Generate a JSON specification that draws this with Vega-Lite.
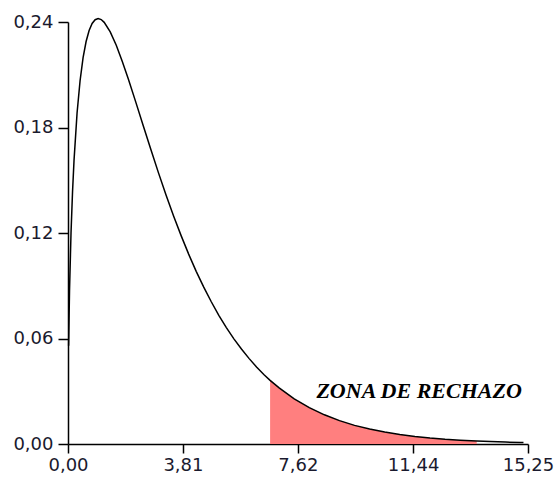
{
  "$schema": "https://vega.github.io/schema/vega-lite/v6.json",
  "width": 460,
  "height": 422,
  "autosize": "none",
  "padding": {"left": 68, "top": 22, "right": 32, "bottom": 38},
  "background": "white",
  "config": {"view": {"stroke": null}},
  "datasets": {
    "curve": [
      {"x": 0.02, "y": 0.0559}, {"x": 0.05, "y": 0.0870}, {"x": 0.1, "y": 0.1200},
      {"x": 0.15, "y": 0.1433}, {"x": 0.2, "y": 0.1614}, {"x": 0.3, "y": 0.1881},
      {"x": 0.4, "y": 0.2066}, {"x": 0.5, "y": 0.2197}, {"x": 0.6, "y": 0.2289},
      {"x": 0.7, "y": 0.2352}, {"x": 0.8, "y": 0.2392}, {"x": 0.9, "y": 0.2413},
      {"x": 1.0, "y": 0.2420}, {"x": 1.1, "y": 0.2414}, {"x": 1.2, "y": 0.2398},
      {"x": 1.4, "y": 0.2344}, {"x": 1.6, "y": 0.2268}, {"x": 1.8, "y": 0.2176},
      {"x": 2.0, "y": 0.2076}, {"x": 2.25, "y": 0.1943}, {"x": 2.5, "y": 0.1807},
      {"x": 2.75, "y": 0.1673}, {"x": 3.0, "y": 0.1542}, {"x": 3.25, "y": 0.1416},
      {"x": 3.5, "y": 0.1297}, {"x": 3.75, "y": 0.1185}, {"x": 4.0, "y": 0.1080},
      {"x": 4.25, "y": 0.0982}, {"x": 4.5, "y": 0.0892}, {"x": 4.75, "y": 0.0809},
      {"x": 5.0, "y": 0.0732}, {"x": 5.25, "y": 0.0662}, {"x": 5.5, "y": 0.0598},
      {"x": 5.75, "y": 0.0540}, {"x": 6.0, "y": 0.0487}, {"x": 6.25, "y": 0.0438},
      {"x": 6.5, "y": 0.0394}, {"x": 6.7, "y": 0.0362}, {"x": 7.0, "y": 0.0319},
      {"x": 7.5, "y": 0.0257}, {"x": 8.0, "y": 0.0207}, {"x": 8.5, "y": 0.0166},
      {"x": 9.0, "y": 0.0133}, {"x": 9.5, "y": 0.0106}, {"x": 10.0, "y": 0.0085},
      {"x": 10.5, "y": 0.0068}, {"x": 11.0, "y": 0.0054}, {"x": 11.5, "y": 0.0043},
      {"x": 12.0, "y": 0.0034}, {"x": 12.5, "y": 0.0027}, {"x": 13.0, "y": 0.0022},
      {"x": 13.55, "y": 0.0017}, {"x": 14.0, "y": 0.0014}, {"x": 14.5, "y": 0.0011},
      {"x": 15.0, "y": 0.00085}, {"x": 15.1, "y": 0.0008}
    ],
    "zone": [
      {"x": 6.7, "y": 0.0362}, {"x": 7.0, "y": 0.0319}, {"x": 7.5, "y": 0.0257},
      {"x": 8.0, "y": 0.0207}, {"x": 8.5, "y": 0.0166}, {"x": 9.0, "y": 0.0133},
      {"x": 9.5, "y": 0.0106}, {"x": 10.0, "y": 0.0085}, {"x": 10.5, "y": 0.0068},
      {"x": 11.0, "y": 0.0054}, {"x": 11.5, "y": 0.0043}, {"x": 12.0, "y": 0.0034},
      {"x": 12.5, "y": 0.0027}, {"x": 13.0, "y": 0.0022}, {"x": 13.55, "y": 0.0017}
    ],
    "label": [{"x": 11.64, "y": 0.030, "text": "ZONA DE RECHAZO"}]
  },
  "layer": [
    {
      "data": {"name": "zone"},
      "mark": {"type": "area", "color": "#ff7f7f", "opacity": 1},
      "encoding": {
        "x": {
          "field": "x", "type": "quantitative",
          "scale": {"domain": [0, 15.25], "nice": false, "zero": false},
          "axis": {
            "values": [0, 3.81, 7.62, 11.44, 15.25],
            "labelExpr": "replace(format(datum.value, '.2f'), '.', ',')",
            "title": null, "grid": false,
            "domainColor": "black", "domainWidth": 1.5,
            "tickColor": "black", "tickWidth": 1.5, "tickSize": 9,
            "labelFont": "DejaVu Sans", "labelFontSize": 18, "labelColor": "#1a1a2e",
            "labelPadding": 3, "labelFlush": false
          }
        },
        "y": {
          "field": "y", "type": "quantitative",
          "scale": {"domain": [0, 0.24], "nice": false},
          "axis": {
            "values": [0, 0.06, 0.12, 0.18, 0.24],
            "labelExpr": "replace(format(datum.value, '.2f'), '.', ',')",
            "title": null, "grid": false,
            "domainColor": "black", "domainWidth": 1.5,
            "tickColor": "black", "tickWidth": 1.5, "tickSize": 10,
            "labelFont": "DejaVu Sans", "labelFontSize": 18, "labelColor": "#1a1a2e",
            "labelPadding": 5, "labelFlush": false
          }
        }
      }
    },
    {
      "data": {"name": "curve"},
      "mark": {"type": "line", "color": "black", "strokeWidth": 1.5},
      "encoding": {
        "x": {"field": "x", "type": "quantitative"},
        "y": {"field": "y", "type": "quantitative"}
      }
    },
    {
      "data": {"name": "label"},
      "mark": {"type": "text", "font": "Liberation Serif", "fontStyle": "italic", "fontWeight": "bold", "fontSize": 22, "color": "black", "align": "center", "baseline": "middle"},
      "encoding": {
        "x": {"field": "x", "type": "quantitative"},
        "y": {"field": "y", "type": "quantitative"},
        "text": {"field": "text"}
      }
    }
  ]
}
